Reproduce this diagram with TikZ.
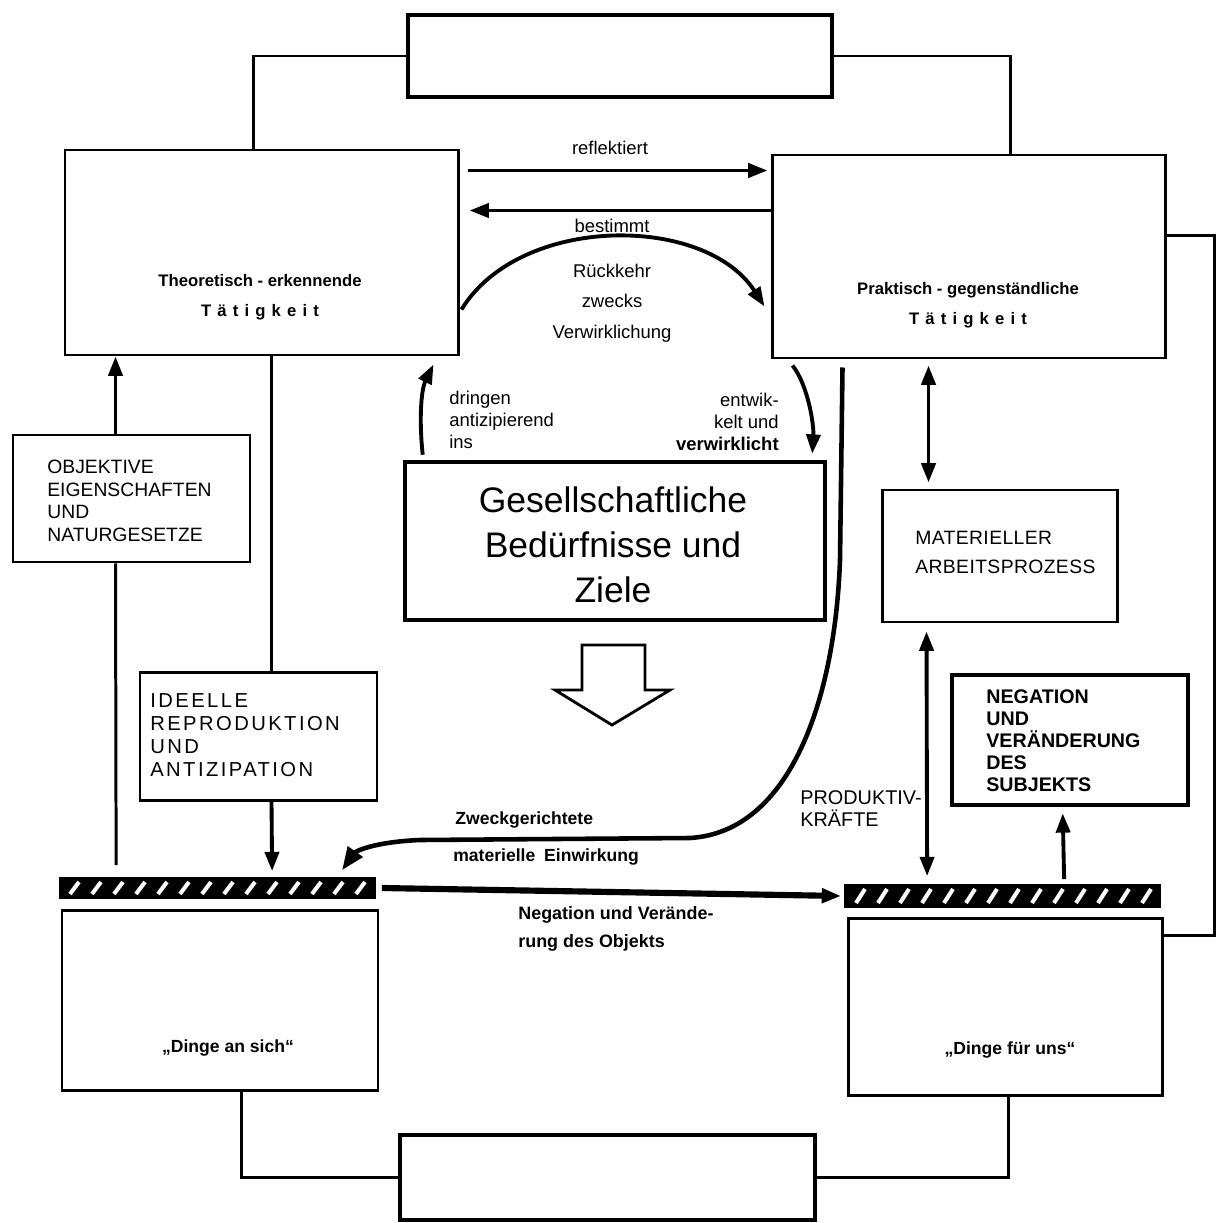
\documentclass[tikz,border=0pt]{standalone}
\usepackage{fontspec}
\setmainfont{Liberation Sans}
\usetikzlibrary{arrows.meta,calc,fit}
\begin{document}
\begin{tikzpicture}[x=0.02cm,y=-0.02cm,
  box/.style={draw, line width=1.7pt, inner sep=0pt},
  thickbox/.style={box, line width=2.6pt},
  bar/.style={draw, fill=black, line width=1pt, inner sep=0pt},
  conn/.style={line width=1.7pt},
  arr/.style={line width=2.2pt, -{Triangle[length=11pt,width=8pt]}},
  darr/.style={line width=2.2pt, {Triangle[length=11pt,width=8pt]}-{Triangle[length=11pt,width=8pt]}},
  lbl/.style={inner sep=0pt, font=\fontsize{10.5}{12.5}\selectfont},
  blbl/.style={inner sep=0pt, font=\fontsize{10}{12.5}\selectfont\bfseries},
  caps/.style={inner sep=0pt, align=left, font=\fontsize{11}{12.8}\selectfont},
  bcaps/.style={inner sep=0pt, align=left, font=\fontsize{11.2}{12.5}\selectfont\bfseries}
]
\useasboundingbox (0,0) rectangle (1216,1223);
\fill[white] (0,0) rectangle (1216,1223);

% boxes
\node[thickbox, fit={(408,15)(832,97)}] (topbox) {};
\node[box, fit={(65,150)(458,355)}] (theo) {};
\node[box, fit={(772,155)(1165,358)}] (prak) {};
\node[thickbox, fit={(405,462)(825,620)}] (gesell) {};
\node[box, fit={(13,435)(250,562)}] (obj) {};
\node[box, fit={(140,672)(377,800)}] (ideelle) {};
\node[box, fit={(882,490)(1117,622)}] (mat) {};
\node[thickbox, fit={(952,675)(1188,805)}] (neg) {};
\node[box, fit={(62,910)(378,1090)}] (lbox) {};
\node[box, fit={(848,918)(1162,1095)}] (rbox) {};
\node[thickbox, fit={(400,1135)(815,1220)}] (botbox) {};
\node[bar, fit={(60,878)(375,898)}] (lbar) {};
\node[bar, fit={(845,885)(1160,907)}] (rbar) {};
\foreach \i in {0,...,13} {
  \draw[white, line width=2.3pt] (70+\i*22,894) -- (79+\i*22,882);
  \draw[white, line width=2.3pt] (856+\i*22,903) -- (865+\i*22,889);
}

% texts
\node[blbl, align=center, font=\fontsize{9.5}{17}\selectfont\bfseries] (theotxt) at (260,297)
  {Theoretisch - erkennende\\T\kern3.5pt ä\kern3.5pt t\kern3.5pt i\kern3.5pt g\kern3.5pt k\kern3.5pt e\kern3.5pt i\kern3.5pt t};
\node[blbl, align=center, font=\fontsize{9.5}{17}\selectfont\bfseries] (praktxt) at (968,305)
  {Praktisch - gegenständliche\\T\kern3.5pt ä\kern3.5pt t\kern3.5pt i\kern3.5pt g\kern3.5pt k\kern3.5pt e\kern3.5pt i\kern3.5pt t};
\node[inner sep=0pt, align=center, font=\fontsize{20.2}{25.6}\selectfont] (gesetxt) at (613,545)
  {Gesellschaftliche\\Bedürfnisse und\\Ziele};
\node[caps, anchor=west] (objtxt) at (47,501) {OBJEKTIVE\\EIGENSCHAFTEN\\UND\\NATURGESETZE};
\node[caps, anchor=west, font=\fontsize{11.5}{13}\selectfont\addfontfeature{LetterSpace=12}] (idtxt) at (150,735) {IDEELLE\\REPRODUKTION\\UND\\ANTIZIPATION};
\node[caps, anchor=west, font=\fontsize{11}{16.5}\selectfont\addfontfeature{LetterSpace=2}] (mattxt) at (915,552) {MATERIELLER\\ARBEITSPROZESS};
\node[bcaps, anchor=west] (negtxt) at (986,741) {NEGATION\\UND\\VERÄNDERUNG\\DES\\SUBJEKTS};
\node[caps, anchor=west, font=\fontsize{11.3}{12.5}\selectfont] (prodtxt) at (800,809) {PRODUKTIV-\\KRÄFTE};
\node[lbl] (refl) at (610,148) {reflektiert};
\node[lbl] (best) at (612,226) {bestimmt};
\node[lbl, align=center, font=\fontsize{10.5}{17.5}\selectfont] (rueck) at (612,303) {Rückkehr\\zwecks\\Verwirklichung};
\node[lbl, align=left, anchor=west, font=\fontsize{10.5}{12.5}\selectfont] (dring) at (449,420) {dringen\\antizipierend\\ins};
\node[lbl, align=right, anchor=east, font=\fontsize{10.5}{12.5}\selectfont] (entw) at (779,422) {entwik-\\kelt und\\\textbf{verwirklicht}};
\node[blbl, anchor=west] (zweck) at (455,820) {Zweckgerichtete};
\node[blbl, anchor=west] (einw) at (453,857) {materielle\enspace Einwirkung};
\node[blbl, align=left, anchor=west, font=\fontsize{10.2}{16}\selectfont\bfseries] (negobj) at (518,929) {Negation und Verände-\\rung des Objekts};
\node[blbl] (dan) at (228,1048) {„Dinge an sich“};
\node[blbl] (dfu) at (1010,1050) {„Dinge für uns“};

% frame connectors
\draw[conn] ($(theo.north)+(-8,0)$) |- (topbox.west);
\draw[conn] (topbox.east) -| ($(prak.north)+(41.5,0)$);
\draw[conn] ($(lbox.south west)+(181,0)$) |- (botbox.west);
\draw[conn] (botbox.east) -| ($(rbox.south west)+(162,0)$);
\draw[conn] ($(rbox.north east)+(0,19)$) -- ++(51,0) |- ($(prak.north east)+(0,82)$);

% top arrows
\draw[arr] ($(theo.east)+(8,-82)$) -- ($(prak.west)+(-3,-86)$);
\draw[arr] ($(prak.west)+(0,-46)$) -- ($(theo.east)+(10,-42)$);
\draw[arr] ($(theo.east)+(2,57)$) .. controls (520,214) and (705,214) .. ($(prak.west)+(-6,50)$);
\draw[arr] ($(gesell.north west)+(20,-5)$) .. controls (419,420) and (421,390) .. ($(theo.south east)+(-26,8)$);
\draw[arr] ($(prak.south west)+(22,6)$) .. controls (808,385) and (814,425) .. ($(gesell.north east)+(-15,-6)$);

% big curve
\draw[arr, line width=2.6pt, -{Triangle[length=13pt,width=10pt]}] ($(prak.south west)+(72,8)$) -- (840,560) .. controls (835,700) and (790,832) .. (690,838)
  -- (420,840) .. controls (372,842) and (355,852) .. ($(lbar.north west)+(283,-7)$);

% hollow block arrow
\draw[line width=1.6pt, fill=white, line join=miter] (582,645) -- (645,645) -- (645,690) -- (670,690) -- (612,725) -- (555,690) -- (582,690) -- cycle;

% left side
\draw[arr] ($(obj.north west)+(104,0)$) -- ($(theo.south west)+(52,0)$);
\draw[conn] ($(lbar.north west)+(57,-12)$) -- ($(obj.south west)+(104,0)$);
\draw[conn] ($(theo.south west)+(208,0)$) -- ($(ideelle.north west)+(133,0)$);
\draw[arr] ($(ideelle.south west)+(133,0)$) -- ($(lbar.north west)+(213,-6)$);

% bottom arrow
\draw[arr, line width=3.5pt] ($(lbar.east)+(6,0)$) -- ($(rbar.west)+(-3,0)$);

% right side
\draw[darr] ($(prak.south west)+(158,6)$) -- ($(mat.north west)+(48,-6)$);
\draw[darr] ($(mat.south west)+(46,8)$) -- ($(rbar.north west)+(83,-8)$);
\draw[arr] ($(rbar.north west)+(220,-5)$) -- ($(neg.south west)+(113,6)$);
\end{tikzpicture}
\end{document}
